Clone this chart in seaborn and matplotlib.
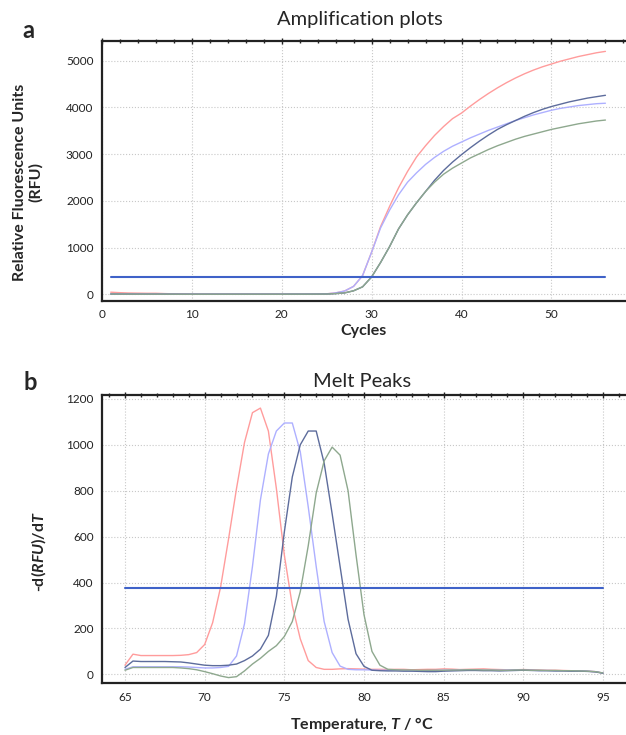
"""
Amplification plots and melt peaks (qPCR), redrawn with seaborn.
"""
import matplotlib
matplotlib.use("Agg")
import matplotlib.pyplot as plt
import numpy as np
import pandas as pd
import seaborn as sns
from matplotlib.ticker import MultipleLocator

# --- amplification data (cycles 1..56) ---
cycles = list(range(1, 57))
amp_red = [45, 35, 28, 25, 22, 22, 15, 10, 8, 5, 4, 4, 3, 4, 3, 4, 3, 3, 4, 3, 4, 4, 5, 6,
           10, 30, 70, 170, 400, 900, 1450, 1880, 2280, 2630, 2940, 3180, 3400, 3590, 3760, 3880,
           4030, 4170, 4300, 4420, 4530, 4630, 4720, 4800, 4870, 4930, 4990, 5040, 5090, 5130,
           5170, 5200]
amp_purple = [10, 8, 8, 6, 6, 5, 5, 4, 4, 4, 3, 3, 3, 3, 3, 3, 3, 3, 3, 3, 4, 4, 5, 6,
              10, 30, 70, 170, 400, 900, 1420, 1800, 2130, 2400, 2600, 2780, 2930, 3060, 3170, 3260,
              3350, 3430, 3510, 3580, 3650, 3720, 3780, 3840, 3890, 3940, 3980, 4010, 4040, 4060,
              4080, 4090]
amp_navy = [5, 4, 4, 3, 3, 3, 3, 3, 2, 2, 2, 2, 2, 2, 2, 2, 2, 2, 2, 2, 3, 3, 3, 4,
            5, 15, 30, 75, 160, 370, 680, 1020, 1400, 1700, 1960, 2200, 2440, 2650, 2830, 2990,
            3140, 3280, 3410, 3530, 3630, 3720, 3810, 3890, 3960, 4020, 4070, 4120, 4160, 4200,
            4230, 4260]
amp_green = [5, 4, 4, 3, 3, 3, 3, 3, 2, 2, 2, 2, 2, 2, 2, 2, 2, 2, 2, 2, 3, 3, 3, 4,
             5, 15, 30, 75, 160, 370, 680, 1020, 1400, 1700, 1960, 2200, 2400, 2570, 2700, 2810,
             2920, 3010, 3100, 3180, 3250, 3320, 3380, 3430, 3480, 3530, 3570, 3610, 3650, 3680,
             3710, 3730]
amp_threshold = 380

# --- melt data (65..95 degC, 0.5 step) ---
temps = list(np.arange(65, 95.01, 0.5))
melt_red = [40, 88, 82, 82, 82, 82, 82, 83, 86, 95, 130, 225, 380, 590, 810, 1010, 1140, 1160,
            1060, 810, 520, 300, 155, 60, 30, 22, 22, 24, 25, 24, 23, 22, 22, 21, 22, 22, 20,
            21, 22, 22, 24, 23, 21, 22, 23, 24, 22, 21, 20, 20, 21, 20, 19, 18, 18, 17, 16, 15,
            14, 12, 6]
melt_purple = [22, 33, 33, 33, 33, 33, 33, 33, 32, 30, 28, 28, 30, 35, 80, 220, 470, 760, 960,
               1060, 1095, 1095, 970, 730, 470, 230, 95, 36, 22, 20, 20, 19, 18, 18, 18, 17, 16,
               16, 16, 17, 18, 18, 19, 19, 19, 18, 18, 18, 19, 19, 18, 18, 17, 17, 16, 16, 15,
               15, 14, 12, 6]
melt_navy = [30, 58, 56, 56, 56, 56, 55, 54, 50, 45, 40, 38, 38, 40, 45, 60, 80, 110, 170, 340,
             620, 860, 1000, 1060, 1060, 920, 700, 470, 240, 90, 35, 18, 16, 15, 15, 14, 14, 13,
             12, 12, 14, 15, 16, 17, 17, 16, 16, 15, 16, 17, 18, 17, 16, 16, 15, 15, 14, 14,
             13, 11, 5]
melt_green = [18, 30, 30, 30, 30, 30, 30, 28, 25, 20, 12, 3, -7, -14, -10, 15, 45, 70, 100, 125,
              165, 230, 360, 560, 790, 930, 990, 955, 800, 520, 260, 100, 40, 22, 20, 19, 19,
              18, 18, 18, 18, 19, 19, 20, 20, 19, 19, 18, 18, 19, 19, 18, 18, 17, 17, 16, 16,
              15, 14, 12, 6]
melt_threshold = 375

series = ["red", "purple", "navy", "green"]
palette = {"red": "#ff9c9c", "purple": "#aeb0ff", "navy": "#5d6c9c", "green": "#8ea88e"}
thr_color = "#3f62c8"

amp = pd.DataFrame({
    "cycle": cycles * 4,
    "rfu": amp_red + amp_purple + amp_navy + amp_green,
    "well": np.repeat(series, len(cycles)),
})
melt = pd.DataFrame({
    "temp": temps * 4,
    "drfu": melt_red + melt_purple + melt_navy + melt_green,
    "well": np.repeat(series, len(temps)),
})

sns.set_style("white")
plt.rcParams["font.family"] = ["Lato", "DejaVu Sans"]
plt.rcParams["mathtext.fontset"] = "custom"
plt.rcParams["mathtext.it"] = "Lato:italic:bold"
plt.rcParams["mathtext.rm"] = "Lato:bold"

fig = plt.figure(figsize=(6.26, 7.35), dpi=100)
# right spines sit just past the image edge, as in the reference crop
ax1 = fig.add_axes([0.1625, 0.5905, 0.842, 0.3537])
ax2 = fig.add_axes([0.163, 0.0703, 0.841, 0.3923])


def style_axis(ax):
    ax.grid(True, which="major", color="#c8c8c8", linestyle=":", linewidth=0.8)
    for sp in ax.spines.values():
        sp.set_color("#222222")
        sp.set_linewidth(1.6)
    ax.tick_params(which="both", direction="inout", top=True, right=True,
                   labelsize=8.5, colors="#222222", width=1)
    ax.tick_params(which="major", length=5)
    ax.tick_params(which="minor", length=3)
    ax.set_xlabel("")
    ax.set_ylabel("")


# --- panel a ---
sns.lineplot(data=amp, x="cycle", y="rfu", hue="well", palette=palette,
             hue_order=series, legend=False, linewidth=1.0, ax=ax1)
ax1.plot([cycles[0], cycles[-1]], [amp_threshold, amp_threshold], color=thr_color, lw=1.5)
ax1.set_xlim(0, 58.6)
ax1.set_ylim(-143, 5422)
ax1.xaxis.set_major_locator(MultipleLocator(10))
ax1.xaxis.set_minor_locator(MultipleLocator(2))
ax1.yaxis.set_major_locator(MultipleLocator(1000))
ax1.yaxis.set_minor_locator(MultipleLocator(200))
style_axis(ax1)

# --- panel b ---
sns.lineplot(data=melt, x="temp", y="drfu", hue="well", palette=palette,
             hue_order=series, legend=False, linewidth=1.0, ax=ax2)
ax2.plot([temps[0], temps[-1]], [melt_threshold, melt_threshold], color=thr_color, lw=1.5)
ax2.set_xlim(63.56, 96.6)
ax2.set_ylim(-39, 1217)
ax2.xaxis.set_major_locator(MultipleLocator(5))
ax2.xaxis.set_minor_locator(MultipleLocator(1))
ax2.yaxis.set_major_locator(MultipleLocator(200))
ax2.yaxis.set_minor_locator(MultipleLocator(50))
style_axis(ax2)

# titles, labels, panel letters
fig.text(0.575, 0.974, "Amplification plots", ha="center", va="center", fontsize=14.5)
fig.text(0.578, 0.481, "Melt Peaks", ha="center", va="center", fontsize=14.5)
fig.text(0.045, 0.959, "a", ha="center", va="center", fontsize=17, fontweight="bold")
fig.text(0.048, 0.479, "b", ha="center", va="center", fontsize=17, fontweight="bold")
fig.text(0.045, 0.752, "Relative Fluorescence Units\n(RFU)", ha="center", va="center",
         rotation=90, fontsize=11.5, fontweight="bold", linespacing=1.1)
fig.text(0.58, 0.549, "Cycles", ha="center", va="center", fontsize=11.5, fontweight="bold")
fig.text(0.062, 0.25, r"-d($RFU$)/d$T$", ha="center", va="center", rotation=90,
         fontsize=11.5, fontweight="bold")
fig.text(0.578, 0.014, r"Temperature, $T$ / °C", ha="center", va="center",
         fontsize=11.5, fontweight="bold")

fig.savefig("out.png", dpi=100)
plt.close(fig)
